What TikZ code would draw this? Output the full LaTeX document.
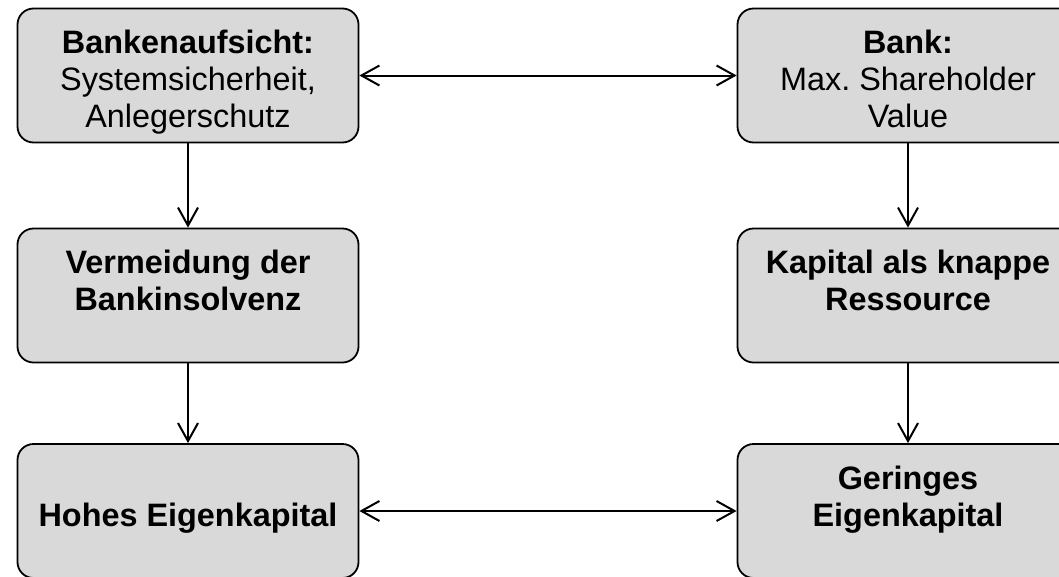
\documentclass[tikz,border=0pt]{standalone}
\usepackage{fontspec}
\setmainfont{Liberation Sans}
\usetikzlibrary{arrows.meta}
\definecolor{boxfill}{HTML}{D9D9D9}
\newcommand{\tstr}{\rule{0pt}{38pt}}
\newcommand{\bstr}{\rule[-8pt]{0pt}{8pt}}
\tikzset{
  vtip/.tip={Straight Barb[length=18pt, width=20pt]},
  box/.style={draw=black, fill=boxfill, line width=1.8pt, rounded corners=16pt, minimum width=341pt, minimum height=134pt, inner sep=0pt, align=center, font=\fontsize{32.4}{37}\selectfont},
  arr/.style={-vtip, draw=black, line width=2pt},
  biarr/.style={vtip-vtip, draw=black, line width=2pt},
}

\begin{document}
\begin{tikzpicture}[x=1pt,y=-1pt]
  \useasboundingbox (0,0) rectangle (1059,576);
  \node[box] (aufs) at (188,75.5) {\tstr\textbf{Bankenaufsicht:}\\Systemsicherheit,\\Anlegerschutz\bstr};
  \node[box] (bank) at (908,75.5) {\tstr\textbf{Bank:}\\Max.\ Shareholder\\Value\bstr};
  \node[box] (verm) at (188,295.5) {\tstr\textbf{Vermeidung der}\\\textbf{Bankinsolvenz}\\\bstr};
  \node[box] (knapp) at (908,295.5) {\tstr\textbf{Kapital als knappe}\\\textbf{Ressource}\\\bstr};
  \node[box] (hoch) at (188,511) {\tstr\\\textbf{Hohes Eigenkapital}\\\bstr};
  \node[box] (gering) at (908,511) {\tstr\textbf{Geringes}\\\textbf{Eigenkapital}\\\bstr};
  \draw[biarr] (aufs) -- (bank);
  \draw[biarr] (hoch) -- (gering);
  \draw[arr] (aufs) -- (verm);
  \draw[arr] (verm) -- (hoch);
  \draw[arr] (bank) -- (knapp);
  \draw[arr] (knapp) -- (gering);
\end{tikzpicture}
\end{document}
